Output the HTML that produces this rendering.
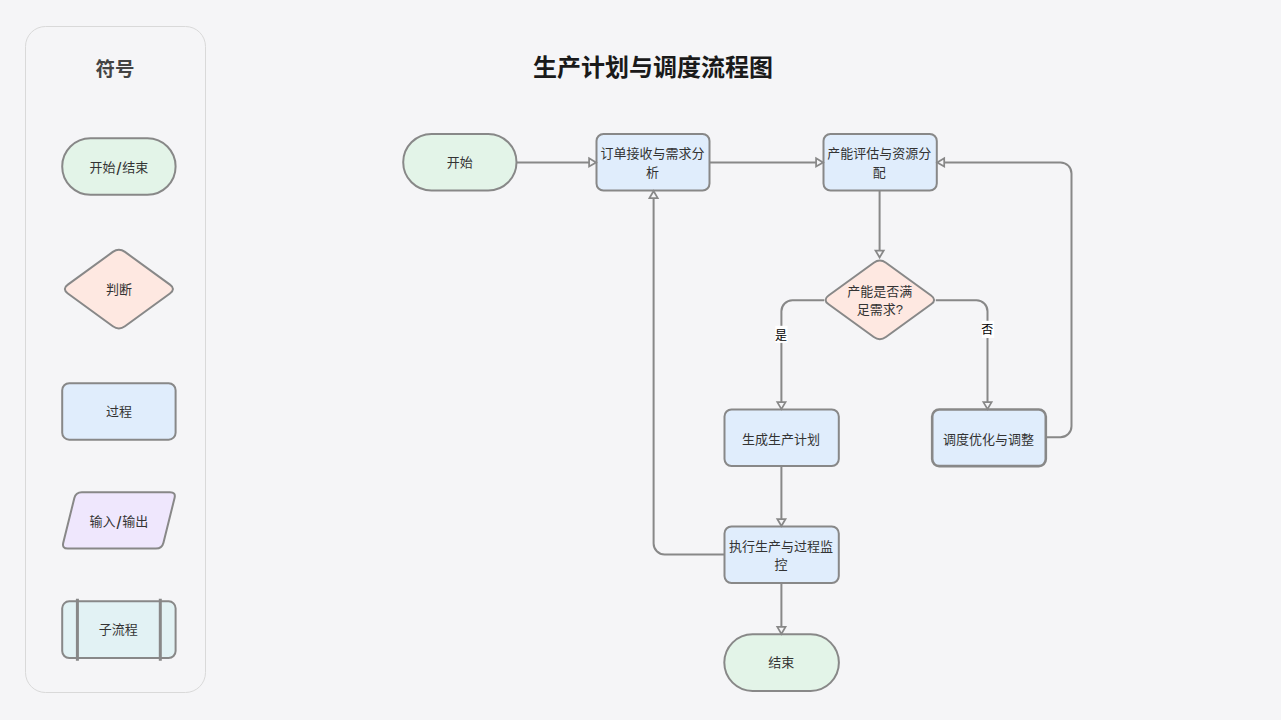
<!DOCTYPE html>
<html lang="zh-CN">
<head>
<meta charset="utf-8">
<title>生产计划与调度流程图</title>
<style>
html,body{margin:0;padding:0;background:#f5f5f7;}
body{width:1281px;height:720px;overflow:hidden;position:relative;font-family:"Liberation Sans","Noto Sans CJK SC",sans-serif;}
svg{position:absolute;left:0;top:0;display:block;}
text{font-family:"Liberation Sans","Noto Sans CJK SC",sans-serif;}
.t{font-size:13px;fill:#333;text-anchor:middle;}
.shape{stroke:#888888;stroke-width:2;stroke-linejoin:round;}
.edge{stroke:#888888;stroke-width:2;fill:none;}
.arrow{stroke:#888888;stroke-width:1.75;fill:#f5f5f7;stroke-linejoin:miter;}
.lbl{font-size:12px;fill:#000;text-anchor:middle;}
</style>
</head>
<body>
<svg width="1281" height="720" viewBox="0 0 1281 720">
<!-- legend panel -->
<rect x="25.5" y="26.5" width="180" height="666" rx="20" ry="20" fill="none" stroke="#d9d9d9" stroke-width="1"/>
<text x="115" y="76.3" style="font-size:19.5px;font-weight:bold;fill:#444;text-anchor:middle;">符号</text>
<rect class="shape" x="62.2" y="138.3" width="113.4" height="56.4" rx="28.2" fill="#e3f4e8"/>
<text class="t" x="118.9" y="171.9">开始<tspan dx="0.9" dy="3.1" style="font-size:17.5px">/</tspan><tspan dx="0.9" dy="-3.1">结束</tspan></text>
<path class="shape" d="M112.84 251.92 Q118.9 247.5 124.96 251.92 L169.94 284.68 Q176 289.1 169.94 293.52 L124.96 326.28 Q118.9 330.7 112.84 326.28 L67.86 293.52 Q61.8 289.1 67.86 284.68 Z" fill="#fee8e1"/>
<text class="t" x="118.9" y="293.7">判断</text>
<rect class="shape" x="62.2" y="383.25" width="113.4" height="56.4" rx="7" fill="#e0edfc"/>
<text class="t" x="118.9" y="415.95">过程</text>
<path class="shape" d="M74.35 498.02 Q75.8 492.2 81.8 492.2 L170 492.2 Q176 492.2 174.55 498.02 L163.45 542.78 Q162 548.6 156 548.6 L67.8 548.6 Q61.8 548.6 63.25 542.78 Z" fill="#efe7fd"/>
<text class="t" x="118.9" y="525.8">输入<tspan dx="0.9" dy="3.1" style="font-size:17.5px">/</tspan><tspan dx="0.9" dy="-3.1">输出</tspan></text>
<rect class="shape" x="62.2" y="601.3" width="113.4" height="56.7" rx="7" fill="#e2f2f4"/>
<path class="edge" d="M77.4 598.8 V660.8 M160.3 598.8 V660.8" style="stroke-width:3"/>
<text class="t" x="118.3" y="634.05">子流程</text>
<!-- title -->
<text x="653" y="75.6" style="font-size:24px;font-weight:bold;fill:#1a1a1a;text-anchor:middle;">生产计划与调度流程图</text>
<!-- edges -->
<path class="edge" d="M516.5 162.4 H589.1"/>
<path class="edge" d="M709.5 162.4 H816.1"/>
<path class="edge" d="M879.6 190.6 V250.5"/>
<path class="edge" d="M824.2 300.3 H792.4 A11 11 0 0 0 781.4 311.3 V402.1"/>
<path class="edge" d="M935.8 300.3 H976.5 A11 11 0 0 1 987.5 311.3 V402.1"/>
<path class="edge" d="M781.4 466.1 V519"/>
<path class="edge" d="M781.4 583 V626.9"/>
<path class="edge" d="M724.5 554.5 H664.6 A11 11 0 0 1 653.6 543.5 V198"/>
<path class="edge" d="M1045.8 437.2 H1060.5 A11 11 0 0 0 1071.5 426.2 V173.4 A11 11 0 0 0 1060.5 162.4 H944.2"/>
<!-- edge labels -->
<rect x="775.3" y="325.8" width="12.2" height="17.1" fill="#ffffff"/>
<text class="lbl" x="781" y="339.5">是</text>
<rect x="981.9" y="320.8" width="12.3" height="17.2" fill="#ffffff"/>
<text class="lbl" x="987.3" y="333.9">否</text>
<!-- nodes -->
<rect class="shape" x="403.2" y="134" width="113.3" height="56.6" rx="28.3" fill="#e3f4e8"/>
<text class="t" x="459.85" y="166.8">开始</text>
<rect class="shape" x="596.5" y="134" width="113" height="56.6" rx="7" fill="#e0edfc"/>
<text class="t" x="652.5" y="158.3">订单接收与需求分</text>
<text class="t" x="652.5" y="177.1">析</text>
<rect class="shape" x="823.5" y="134" width="113.3" height="56.6" rx="7" fill="#e0edfc"/>
<text class="t" x="879.35" y="158.3">产能评估与资源分</text>
<text class="t" x="879.35" y="177.1">配</text>
<path class="shape" d="M873.78 262.8 Q879.85 258.4 885.92 262.8 L931.08 295.5 Q937.15 299.9 931.08 304.3 L885.92 337 Q879.85 341.4 873.78 337 L828.62 304.3 Q822.55 299.9 828.62 295.5 Z" fill="#fee8e1"/>
<text class="t" x="879.85" y="295.6">产能是否满</text>
<text class="t" x="879.85" y="314.4">足需求?</text>
<rect class="shape" x="724.5" y="409.5" width="114.3" height="56.6" rx="7" fill="#e0edfc"/>
<text class="t" x="780.95" y="443.6">生成生产计划</text>
<rect class="shape" x="932.2" y="409.5" width="113.6" height="56.6" rx="7" fill="#e0edfc" style="stroke-width:2.6"/>
<text class="t" x="988.6" y="443.6">调度优化与调整</text>
<rect class="shape" x="724.5" y="526.4" width="114.3" height="56.6" rx="7" fill="#e0edfc"/>
<text class="t" x="781.05" y="550.5">执行生产与过程监</text>
<text class="t" x="781.05" y="569.3">控</text>
<rect class="shape" x="724.3" y="634.3" width="114.6" height="56.6" rx="28.3" fill="#e3f4e8"/>
<text class="t" x="781.2" y="667">结束</text>
<!-- arrowheads -->
<path class="arrow" d="M589.1 158.3 L596.1 162.4 L589.1 166.5 Z"/>
<path class="arrow" d="M816.1 158.3 L823.1 162.4 L816.1 166.5 Z"/>
<path class="arrow" d="M875.5 250.5 L879.6 257.5 L883.7 250.5 Z"/>
<path class="arrow" d="M777.3 402.1 L781.4 409.1 L785.5 402.1 Z"/>
<path class="arrow" d="M983.4 402.1 L987.5 409.1 L991.6 402.1 Z"/>
<path class="arrow" d="M777.3 519 L781.4 526 L785.5 519 Z"/>
<path class="arrow" d="M777.3 626.9 L781.4 633.9 L785.5 626.9 Z"/>
<path class="arrow" d="M649.5 198 L653.6 191 L657.7 198 Z"/>
<path class="arrow" d="M944.2 158.3 L937.2 162.4 L944.2 166.5 Z"/>
</svg>
</body>
</html>
